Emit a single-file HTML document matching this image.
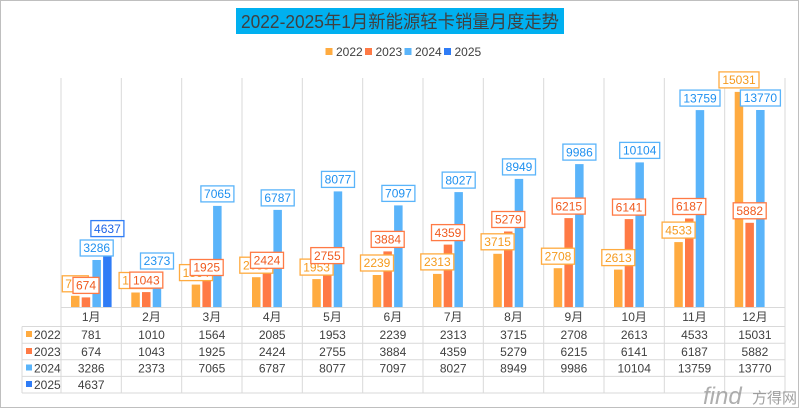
<!DOCTYPE html>
<html><head><meta charset="utf-8"><style>
html,body{margin:0;padding:0;background:#fff}
svg{display:block}
text{font-family:"Liberation Sans","Noto Sans CJK SC",sans-serif;fill:#404040}
.l text{font-size:12px;text-anchor:middle}
.t{font-size:12px;text-anchor:middle}
</style></head><body>
<svg width="800" height="409" viewBox="0 0 800 409" xmlns="http://www.w3.org/2000/svg">
<rect x="0.5" y="0.5" width="798" height="407" fill="#fff" stroke="#bfbfbf"/>
<rect x="236" y="8" width="328" height="26" fill="#00b0f0"/>
<text x="241" y="28" font-size="18" textLength="318" lengthAdjust="spacingAndGlyphs" style="fill:#404040">2022-2025年1月新能源轻卡销量月度走势</text>
<g font-size="12">
<rect x="325.5" y="48" width="7" height="7" fill="#ffab40"/><text x="336" y="56">2022</text>
<rect x="365" y="48" width="7" height="7" fill="#ff7a45"/><text x="375.5" y="56">2023</text>
<rect x="404.5" y="48" width="7" height="7" fill="#5ab4fa"/><text x="415" y="56">2024</text>
<rect x="444" y="48" width="7" height="7" fill="#2f7cf6"/><text x="454.5" y="56">2025</text>
</g>
<!-- grid -->
<g stroke="#d9d9d9" stroke-width="1">
<line x1="61" y1="78" x2="61" y2="393"/><line x1="121.3" y1="78" x2="121.3" y2="393"/><line x1="181.7" y1="78" x2="181.7" y2="393"/><line x1="242" y1="78" x2="242" y2="393"/><line x1="302.3" y1="78" x2="302.3" y2="393"/><line x1="362.7" y1="78" x2="362.7" y2="393"/><line x1="423" y1="78" x2="423" y2="393"/><line x1="483.3" y1="78" x2="483.3" y2="393"/><line x1="543.7" y1="78" x2="543.7" y2="393"/><line x1="604" y1="78" x2="604" y2="393"/><line x1="664.3" y1="78" x2="664.3" y2="393"/><line x1="724.7" y1="78" x2="724.7" y2="393"/><line x1="785" y1="78" x2="785" y2="393"/>
<line x1="22" y1="326.5" x2="22" y2="393"/>
<line x1="61" y1="307.5" x2="785" y2="307.5"/>
<line x1="22" y1="326.5" x2="785" y2="326.5"/>
<line x1="22" y1="343.2" x2="785" y2="343.2"/>
<line x1="22" y1="359.8" x2="785" y2="359.8"/>
<line x1="22" y1="376.4" x2="785" y2="376.4"/>
<line x1="22" y1="393" x2="785" y2="393"/>
</g>
<g fill="#ffab40">
<rect x="71" y="295.8" width="8.5" height="11.2"/><rect x="131.3" y="292.5" width="8.5" height="14.5"/><rect x="191.7" y="284.6" width="8.5" height="22.4"/><rect x="252" y="277.2" width="8.5" height="29.8"/><rect x="312.3" y="279.1" width="8.5" height="27.9"/><rect x="372.7" y="275" width="8.5" height="32"/><rect x="433" y="273.9" width="8.5" height="33.1"/><rect x="493.3" y="253.8" width="8.5" height="53.2"/><rect x="553.7" y="268.2" width="8.5" height="38.8"/><rect x="614" y="269.6" width="8.5" height="37.4"/><rect x="674.3" y="242.1" width="8.5" height="64.9"/><rect x="734.7" y="91.9" width="8.5" height="215.1"/>
</g>
<g fill="#ff7a45">
<rect x="81.7" y="297.4" width="8.5" height="9.6"/><rect x="142" y="292.1" width="8.5" height="14.9"/><rect x="202.4" y="279.5" width="8.5" height="27.5"/><rect x="262.7" y="272.3" width="8.5" height="34.7"/><rect x="323" y="267.6" width="8.5" height="39.4"/><rect x="383.4" y="251.4" width="8.5" height="55.6"/><rect x="443.7" y="244.6" width="8.5" height="62.4"/><rect x="504" y="231.5" width="8.5" height="75.5"/><rect x="564.4" y="218.1" width="8.5" height="88.9"/><rect x="624.7" y="219.1" width="8.5" height="87.9"/><rect x="685" y="218.5" width="8.5" height="88.5"/><rect x="745.4" y="222.8" width="8.5" height="84.2"/>
</g>
<g fill="#5ab4fa">
<rect x="92.4" y="260" width="8.5" height="47"/><rect x="152.7" y="273" width="8.5" height="34"/><rect x="213.1" y="205.9" width="8.5" height="101.1"/><rect x="273.4" y="209.9" width="8.5" height="97.1"/><rect x="333.7" y="191.4" width="8.5" height="115.6"/><rect x="394.1" y="205.4" width="8.5" height="101.6"/><rect x="454.4" y="192.1" width="8.5" height="114.9"/><rect x="514.7" y="178.9" width="8.5" height="128.1"/><rect x="575.1" y="164.1" width="8.5" height="142.9"/><rect x="635.4" y="162.4" width="8.5" height="144.6"/><rect x="695.7" y="110.1" width="8.5" height="196.9"/><rect x="756.1" y="110" width="8.5" height="197"/>
</g>
<rect x="103.1" y="240.6" width="8.5" height="66.4" fill="#2f7cf6"/>
<g fill="#fff" stroke="#ffab40" stroke-width="1.3">
<rect x="62.3" y="275.8" width="26" height="16"/><rect x="119.1" y="272.5" width="33" height="16"/><rect x="179.5" y="264.6" width="33" height="16"/><rect x="239.8" y="257.2" width="33" height="16"/><rect x="300.1" y="259.1" width="33" height="16"/><rect x="360.5" y="255" width="33" height="16"/><rect x="420.8" y="253.9" width="33" height="16"/><rect x="481.1" y="233.8" width="33" height="16"/><rect x="541.5" y="248.2" width="33" height="16"/><rect x="601.8" y="249.6" width="33" height="16"/><rect x="662.1" y="222.1" width="33" height="16"/><rect x="719" y="71.9" width="40" height="16"/>
</g>
<g class="l">
<text x="75.3" y="288" style="fill:#f59a1e">781</text><text x="135.6" y="284.7" style="fill:#f59a1e">1010</text><text x="196" y="276.8" style="fill:#f59a1e">1564</text><text x="256.3" y="269.4" style="fill:#f59a1e">2085</text><text x="316.6" y="271.3" style="fill:#f59a1e">1953</text><text x="377" y="267.2" style="fill:#f59a1e">2239</text><text x="437.3" y="266.1" style="fill:#f59a1e">2313</text><text x="497.6" y="246" style="fill:#f59a1e">3715</text><text x="558" y="260.4" style="fill:#f59a1e">2708</text><text x="618.3" y="261.8" style="fill:#f59a1e">2613</text><text x="678.6" y="234.3" style="fill:#f59a1e">4533</text><text x="739" y="84.1" style="fill:#f59a1e">15031</text>
</g>
<g fill="#fff" stroke="#ff7a45" stroke-width="1.3">
<rect x="73" y="277.4" width="26" height="16"/><rect x="129.8" y="272.1" width="33" height="16"/><rect x="190.2" y="259.5" width="33" height="16"/><rect x="250.5" y="252.3" width="33" height="16"/><rect x="310.8" y="247.6" width="33" height="16"/><rect x="371.2" y="231.4" width="33" height="16"/><rect x="431.5" y="224.6" width="33" height="16"/><rect x="491.8" y="211.5" width="33" height="16"/><rect x="552.2" y="198.1" width="33" height="16"/><rect x="612.5" y="199.1" width="33" height="16"/><rect x="672.8" y="198.5" width="33" height="16"/><rect x="733.2" y="202.8" width="33" height="16"/>
</g>
<g class="l">
<text x="86" y="289.6" style="fill:#f05a1e">674</text><text x="146.3" y="284.3" style="fill:#f05a1e">1043</text><text x="206.7" y="271.7" style="fill:#f05a1e">1925</text><text x="267" y="264.5" style="fill:#f05a1e">2424</text><text x="327.3" y="259.8" style="fill:#f05a1e">2755</text><text x="387.7" y="243.6" style="fill:#f05a1e">3884</text><text x="448" y="236.8" style="fill:#f05a1e">4359</text><text x="508.3" y="223.7" style="fill:#f05a1e">5279</text><text x="568.7" y="210.3" style="fill:#f05a1e">6215</text><text x="629" y="211.3" style="fill:#f05a1e">6141</text><text x="689.3" y="210.7" style="fill:#f05a1e">6187</text><text x="749.7" y="215" style="fill:#f05a1e">5882</text>
</g>
<g fill="#fff" stroke="#5ab4fa" stroke-width="1.3">
<rect x="80.2" y="240" width="33" height="16"/><rect x="140.5" y="253" width="33" height="16"/><rect x="200.9" y="185.9" width="33" height="16"/><rect x="261.2" y="189.9" width="33" height="16"/><rect x="321.5" y="171.4" width="33" height="16"/><rect x="381.9" y="185.4" width="33" height="16"/><rect x="442.2" y="172.1" width="33" height="16"/><rect x="502.5" y="158.9" width="33" height="16"/><rect x="562.9" y="144.1" width="33" height="16"/><rect x="619.7" y="142.4" width="40" height="16"/><rect x="680" y="90.1" width="40" height="16"/><rect x="740.4" y="90" width="40" height="16"/>
</g>
<g class="l">
<text x="96.7" y="252.2" style="fill:#1e90f0">3286</text><text x="157" y="265.2" style="fill:#1e90f0">2373</text><text x="217.4" y="198.1" style="fill:#1e90f0">7065</text><text x="277.7" y="202.1" style="fill:#1e90f0">6787</text><text x="338" y="183.6" style="fill:#1e90f0">8077</text><text x="398.4" y="197.6" style="fill:#1e90f0">7097</text><text x="458.7" y="184.3" style="fill:#1e90f0">8027</text><text x="519" y="171.1" style="fill:#1e90f0">8949</text><text x="579.4" y="156.3" style="fill:#1e90f0">9986</text><text x="639.7" y="154.6" style="fill:#1e90f0">10104</text><text x="700" y="102.3" style="fill:#1e90f0">13759</text><text x="760.4" y="102.2" style="fill:#1e90f0">13770</text>
</g>
<rect x="90.9" y="220.6" width="33" height="16" fill="#fff" stroke="#2f7cf6" stroke-width="1.3"/>
<text class="t" x="107.4" y="232.8" style="fill:#1e64e6">4637</text>
<g class="t">
<text x="91.2" y="321">1月</text><text x="151.5" y="321">2月</text><text x="211.9" y="321">3月</text><text x="272.2" y="321">4月</text><text x="332.5" y="321">5月</text><text x="392.9" y="321">6月</text><text x="453.2" y="321">7月</text><text x="513.5" y="321">8月</text><text x="573.9" y="321">9月</text><text x="634.2" y="321">10月</text><text x="694.5" y="321">11月</text><text x="754.9" y="321">12月</text>
<text x="91.2" y="339">781</text><text x="151.5" y="339">1010</text><text x="211.9" y="339">1564</text><text x="272.2" y="339">2085</text><text x="332.5" y="339">1953</text><text x="392.9" y="339">2239</text><text x="453.2" y="339">2313</text><text x="513.5" y="339">3715</text><text x="573.9" y="339">2708</text><text x="634.2" y="339">2613</text><text x="694.5" y="339">4533</text><text x="754.9" y="339">15031</text>
<text x="91.2" y="356">674</text><text x="151.5" y="356">1043</text><text x="211.9" y="356">1925</text><text x="272.2" y="356">2424</text><text x="332.5" y="356">2755</text><text x="392.9" y="356">3884</text><text x="453.2" y="356">4359</text><text x="513.5" y="356">5279</text><text x="573.9" y="356">6215</text><text x="634.2" y="356">6141</text><text x="694.5" y="356">6187</text><text x="754.9" y="356">5882</text>
<text x="91.2" y="372.5">3286</text><text x="151.5" y="372.5">2373</text><text x="211.9" y="372.5">7065</text><text x="272.2" y="372.5">6787</text><text x="332.5" y="372.5">8077</text><text x="392.9" y="372.5">7097</text><text x="453.2" y="372.5">8027</text><text x="513.5" y="372.5">8949</text><text x="573.9" y="372.5">9986</text><text x="634.2" y="372.5">10104</text><text x="694.5" y="372.5">13759</text><text x="754.9" y="372.5">13770</text>
<text x="91.2" y="389">4637</text>
</g>
<rect x="26" y="331" width="6" height="6" fill="#ffab40"/><text x="34" y="339" font-size="12">2022</text>
<rect x="26" y="348" width="6" height="6" fill="#ff7a45"/><text x="34" y="356" font-size="12">2023</text>
<rect x="26" y="364.5" width="6" height="6" fill="#5ab4fa"/><text x="34" y="372.5" font-size="12">2024</text>
<rect x="26" y="381" width="6" height="6" fill="#2f7cf6"/><text x="34" y="389" font-size="12">2025</text>
<text x="703" y="404" font-size="24" style="fill:#9a9a9a;opacity:0.8" font-style="italic">find</text>
<text x="752" y="403" font-size="15" style="fill:#8a8a8a;opacity:0.8">方得网</text>
</svg>
</body></html>
